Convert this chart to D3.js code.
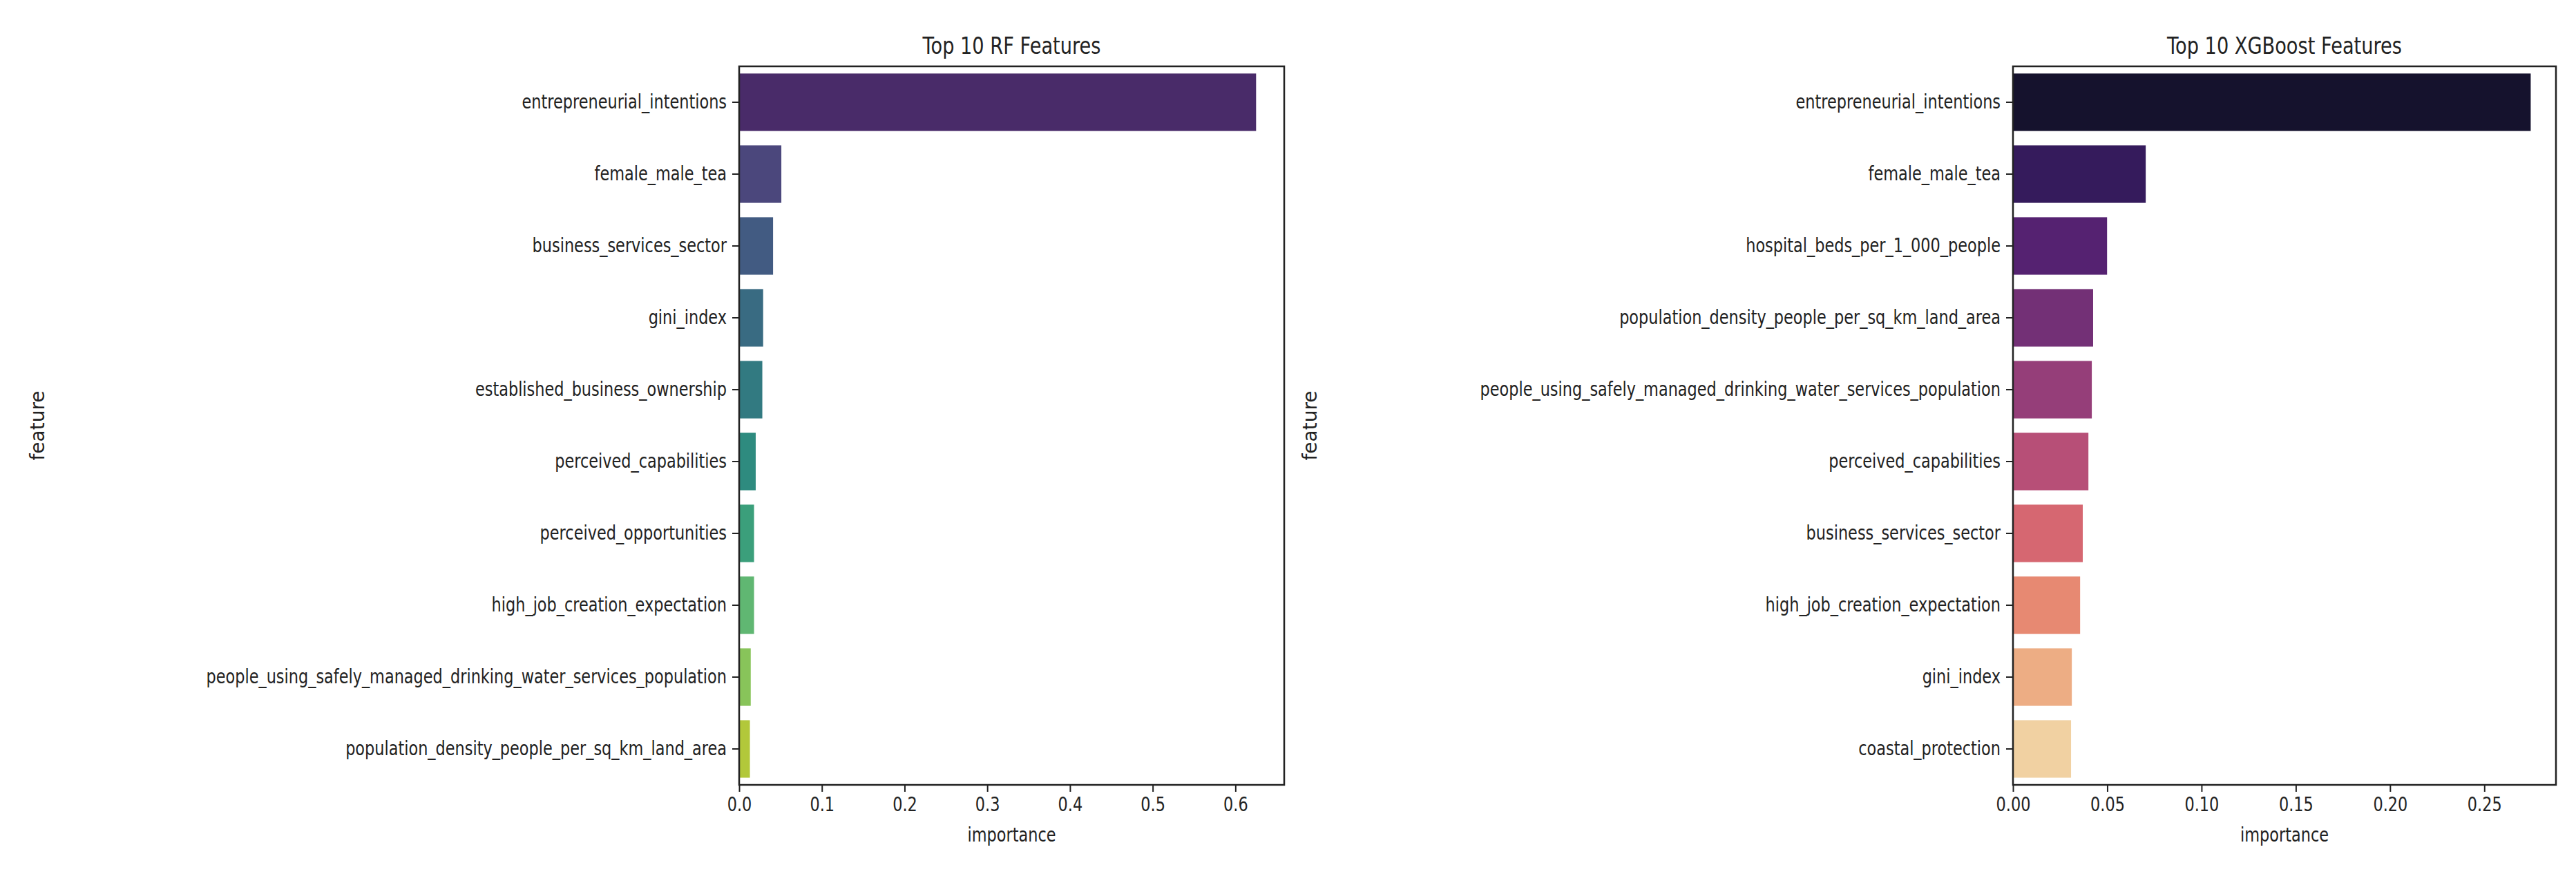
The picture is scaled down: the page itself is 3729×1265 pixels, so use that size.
<!DOCTYPE html>
<html>
<head>
<meta charset="utf-8">
<script src="https://cdn.jsdelivr.net/npm/d3@7"></script>
<style>
  body { margin: 0; background: #fff; }
  text { font-family: "DejaVu Sans", sans-serif; fill: #222; }
</style>
</head>
<body>
<div id="chart"></div>
<script>
var rfFeatures = ["entrepreneurial_intentions", "female_male_tea", "business_services_sector",
  "gini_index", "established_business_ownership", "perceived_capabilities",
  "perceived_opportunities", "high_job_creation_expectation",
  "people_using_safely_managed_drinking_water_services_population",
  "population_density_people_per_sq_km_land_area"];
var rfValues = [0.625, 0.051, 0.041, 0.029, 0.028, 0.020, 0.018, 0.018, 0.014, 0.013];
var rfTicks = [0, 0.1, 0.2, 0.3, 0.4, 0.5, 0.6];

var xgbFeatures = ["entrepreneurial_intentions", "female_male_tea", "hospital_beds_per_1_000_people",
  "population_density_people_per_sq_km_land_area",
  "people_using_safely_managed_drinking_water_services_population",
  "perceived_capabilities", "business_services_sector", "high_job_creation_expectation",
  "gini_index", "coastal_protection"];
var xgbValues = [0.2746, 0.0704, 0.0499, 0.0425, 0.0418, 0.0400, 0.0370, 0.0356, 0.0312, 0.0308];
var xgbTicks = [0, 0.05, 0.10, 0.15, 0.20, 0.25];

var W = 3729, H = 1265;
var svg = d3.select("#chart").append("svg")
    .attr("width", W).attr("height", H);

// seaborn-style palette: sample at (i+1)/(n+1), then desaturate 0.75
function palette(interp, n) {
  return d3.range(n).map(function(i) {
    var c = d3.hsl(interp((i + 1) / (n + 1)));
    c.s *= 0.75;
    return c.toString();
  });
}

var squeeze = 0.8;
function condense(sel) {
  sel.each(function() {
    var l = this.getComputedTextLength();
    d3.select(this).attr("textLength", l * squeeze).attr("lengthAdjust", "spacingAndGlyphs");
  });
}

function panel(opt) {
  var left = opt.left, right = opt.right, top = 96, bottom = 1136;
  var g = svg.append("g");

  var x = d3.scaleLinear().domain([0, opt.xmax]).range([left, right]);
  var y = d3.scaleBand().domain(opt.features).range([top, bottom]).paddingInner(0.2).paddingOuter(0.1);
  var colors = palette(opt.interp, opt.features.length);

  g.selectAll(".bar")
      .data(opt.features)
    .enter().append("rect")
      .attr("class", "bar")
      .attr("x", x(0))
      .attr("y", function(d) { return y(d); })
      .attr("width", function(d, i) { return x(opt.values[i]) - x(0); })
      .attr("height", y.bandwidth())
      .style("fill", function(d, i) { return colors[i]; });

  var xAxis = d3.axisBottom(x).tickValues(opt.ticks).tickFormat(d3.format(opt.fmt))
      .tickSize(10).tickPadding(8);
  var gx = g.append("g").attr("transform", "translate(0," + bottom + ")").call(xAxis);
  var yAxis = d3.axisLeft(y).tickSize(10).tickPadding(8);
  var gy = g.append("g").attr("transform", "translate(" + left + ",0)").call(yAxis);

  [gx, gy].forEach(function(a) {
    a.select(".domain").remove();
    a.selectAll(".tick line").attr("stroke", "#222").attr("stroke-width", 2);
    a.selectAll(".tick text").style("font-size", "28px").attr("fill", "#222")
      .style("font-family", "DejaVu Sans, sans-serif").call(condense);
  });

  g.append("rect")
      .attr("x", left).attr("y", top)
      .attr("width", right - left).attr("height", bottom - top)
      .attr("fill", "none").attr("stroke", "#222").attr("stroke-width", 2.5);

  g.append("text")
      .attr("x", (left + right) / 2).attr("y", 78)
      .attr("text-anchor", "middle").style("font-size", "34px")
      .text(opt.title).call(condense);

  g.append("text")
      .attr("x", (left + right) / 2).attr("y", 1218)
      .attr("text-anchor", "middle").style("font-size", "28px")
      .text("importance").call(condense);

  g.append("text")
      .attr("transform", "translate(" + opt.ylabelX + "," + (top + bottom) / 2 + ") rotate(-90)")
      .attr("text-anchor", "middle").style("font-size", "28px")
      .text("feature");
}

panel({ left: 1070, right: 1859, xmax: 0.659, features: rfFeatures, values: rfValues,
  ticks: rfTicks, fmt: ".1f", interp: d3.interpolateViridis, title: "Top 10 RF Features", ylabelX: 64 });

panel({ left: 2914, right: 3700, xmax: 0.288, features: xgbFeatures, values: xgbValues,
  ticks: xgbTicks, fmt: ".2f", interp: d3.interpolateMagma, title: "Top 10 XGBoost Features", ylabelX: 1906 });
</script>
</body>
</html>
